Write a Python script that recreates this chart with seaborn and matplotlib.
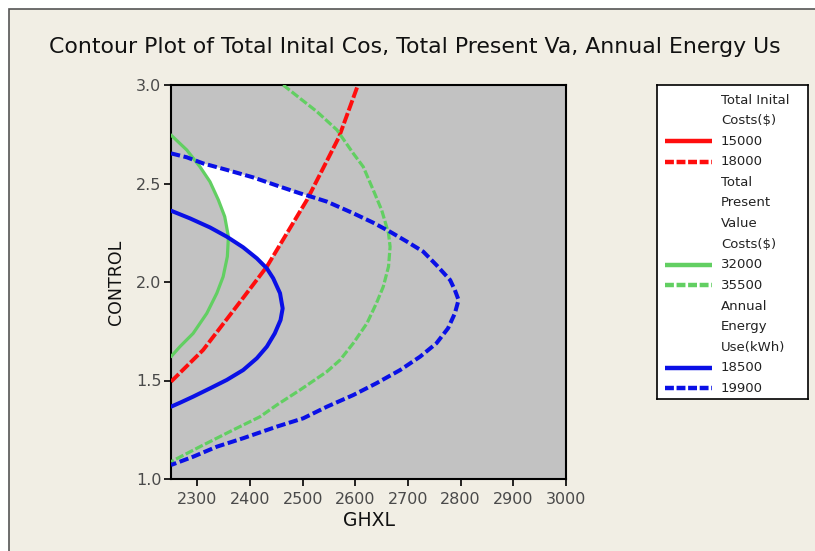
import matplotlib
matplotlib.use("Agg")
import matplotlib.pyplot as plt
from matplotlib.patches import Rectangle
import seaborn as sns
import pandas as pd

# ---- data (GHXL, CONTROL) ----
ic18000_x = [2250, 2311, 2384, 2432, 2470, 2508, 2542, 2569, 2605]
ic18000_y = [1.494, 1.655, 1.909, 2.078, 2.247, 2.416, 2.594, 2.736, 3.0]

pv32000_x = [2250, 2280, 2305, 2324, 2340, 2352, 2359, 2357, 2349, 2337, 2318,
             2292, 2267, 2250]
pv32000_y = [2.746, 2.670, 2.585, 2.509, 2.416, 2.332, 2.230, 2.129, 2.027,
             1.943, 1.841, 1.739, 1.672, 1.621]

pv35500_x = [2463, 2495, 2527, 2565, 2596, 2615, 2634, 2650, 2663, 2666, 2663,
             2653, 2640, 2622, 2596, 2571, 2546, 2495, 2451, 2419, 2368, 2305, 2250]
pv35500_y = [3.0, 2.932, 2.865, 2.772, 2.653, 2.585, 2.467, 2.365, 2.247, 2.179,
             2.078, 1.976, 1.892, 1.790, 1.689, 1.604, 1.545, 1.452, 1.376,
             1.316, 1.249, 1.164, 1.088]

ae18500_x = [2250, 2286, 2324, 2356, 2387, 2413, 2432, 2444, 2457, 2462, 2458,
             2447, 2432, 2413, 2387, 2356, 2324, 2292, 2267, 2250]
ae18500_y = [2.362, 2.323, 2.277, 2.230, 2.176, 2.120, 2.069, 2.019, 1.943,
             1.866, 1.807, 1.739, 1.672, 1.613, 1.553, 1.503, 1.460, 1.418,
             1.387, 1.367]

ae19900_x = [2250, 2280, 2311, 2356, 2406, 2457, 2495, 2520, 2546, 2596, 2634,
             2666, 2698, 2729, 2754, 2780, 2789, 2796, 2789, 2776, 2754, 2723,
             2685, 2640, 2596, 2546, 2501, 2451, 2387, 2337, 2292, 2250]
ae19900_y = [2.653, 2.633, 2.602, 2.569, 2.531, 2.484, 2.450, 2.430, 2.408,
             2.349, 2.301, 2.255, 2.205, 2.154, 2.086, 2.010, 1.959, 1.909,
             1.841, 1.765, 1.689, 1.621, 1.553, 1.486, 1.426, 1.367, 1.308,
             1.266, 1.207, 1.164, 1.113, 1.071]

feasible_x = [2302, 2311, 2356, 2406, 2457, 2495, 2512, 2508, 2470, 2430, 2413,
              2387, 2358, 2352, 2340, 2324, 2305, 2302]
feasible_y = [2.607, 2.602, 2.569, 2.531, 2.484, 2.450, 2.437, 2.416, 2.247,
              2.072, 2.120, 2.176, 2.227, 2.332, 2.416, 2.509, 2.585, 2.607]

x_ticks = [2300, 2400, 2500, 2600, 2700, 2800, 2900, 3000]
y_ticks = [1.0, 1.5, 2.0, 2.5, 3.0]

legend_rows = ["Total Inital", "Costs($)", "15000", "18000",
               "Total", "Present", "Value", "Costs($)", "32000", "35500",
               "Annual", "Energy", "Use(kWh)", "18500", "19900"]

RED = "#ff0d0d"
GREEN = "#62cf62"
BLUE = "#0a10e6"
BG = "#f1eee4"
PLOT_BG = "#c2c2c2"

sns.set_style("ticks")
plt.rcParams["font.family"] = ["DejaVu Sans"]

W, H = 815, 551
fig = plt.figure(figsize=(W / 100, H / 100), dpi=100)
fig.patch.set_facecolor("white")
fig.patches.append(Rectangle((9 / W, -0.1), 1.2, (H - 9) / H + 0.1,
                             transform=fig.transFigure, facecolor=BG,
                             edgecolor="#555555", lw=1.2, zorder=-10))

ax = fig.add_axes([171 / W, (H - 479) / H, 395 / W, 394 / H])
ax.set_facecolor(PLOT_BG)

ax.fill(feasible_x, feasible_y, color="white", zorder=1, lw=0)

curves = [
    (ic18000_x, ic18000_y, RED, (0, (2.8, 0.7)), 2.8),
    (pv32000_x, pv32000_y, GREEN, "-", 2.3),
    (pv35500_x, pv35500_y, GREEN, (0, (2.6, 0.8)), 2.3),
    (ae18500_x, ae18500_y, BLUE, "-", 2.9),
    (ae19900_x, ae19900_y, BLUE, (0, (2.3, 0.9)), 2.9),
]
for xs, ys, col, ls, lw in curves:
    df = pd.DataFrame({"GHXL": xs, "CONTROL": ys})
    sns.lineplot(data=df, x="GHXL", y="CONTROL", sort=False, estimator=None,
                 color=col, linestyle=ls, lw=lw, ax=ax, zorder=3)

ax.set_xlim(2250, 3000)
ax.set_ylim(1.0, 3.0)
ax.set_xticks(x_ticks)
ax.set_yticks(y_ticks)
ax.set_xticklabels([str(t) for t in x_ticks])
ax.set_yticklabels([f"{t:.1f}" for t in y_ticks])
ax.tick_params(axis="both", direction="out", length=5, width=1.2,
               labelsize=11.5, labelcolor="#4a4a4a", color="black")
ax.tick_params(axis="x", pad=4)
ax.tick_params(axis="y", pad=2)
for s in ax.spines.values():
    s.set_visible(True)
    s.set_color("black")
    s.set_linewidth(1.5)
ax.set_xlabel("GHXL", fontsize=13.5, color="#111111", labelpad=3)
ax.set_ylabel("CONTROL", fontsize=12.5, color="#111111", labelpad=8)

fig.text(415 / W, 1 - 47 / H,
         "Contour Plot of Total Inital Cos, Total Present Va, Annual Energy Us",
         ha="center", va="center", fontsize=15.8, color="#111111")

# legend box
lg = fig.add_axes([657 / W, (H - 399) / H, 151 / W, 314 / H])
lg.set_xlim(0, 151)
lg.set_ylim(314, 0)
lg.set_facecolor("white")
lg.set_xticks([])
lg.set_yticks([])
for s in lg.spines.values():
    s.set_color("black")
    s.set_linewidth(1.2)
samples = {2: (RED, "-"), 3: (RED, (0, (2.0, 0.6))),
           8: (GREEN, "-"), 9: (GREEN, (0, (2.0, 0.6))),
           13: (BLUE, "-"), 14: (BLUE, (0, (2.0, 0.6)))}
for i, label in enumerate(legend_rows):
    yy = 15 + i * 20.6
    lg.text(64, yy, label, ha="left", va="center", fontsize=9.5, color="#222222")
    if i in samples:
        col, ls = samples[i]
        lg.plot([8, 55], [yy, yy], color=col, linestyle=ls, lw=3.2,
                solid_capstyle="butt", dash_capstyle="butt")

fig.savefig("out.png", dpi=100, facecolor=fig.get_facecolor())
